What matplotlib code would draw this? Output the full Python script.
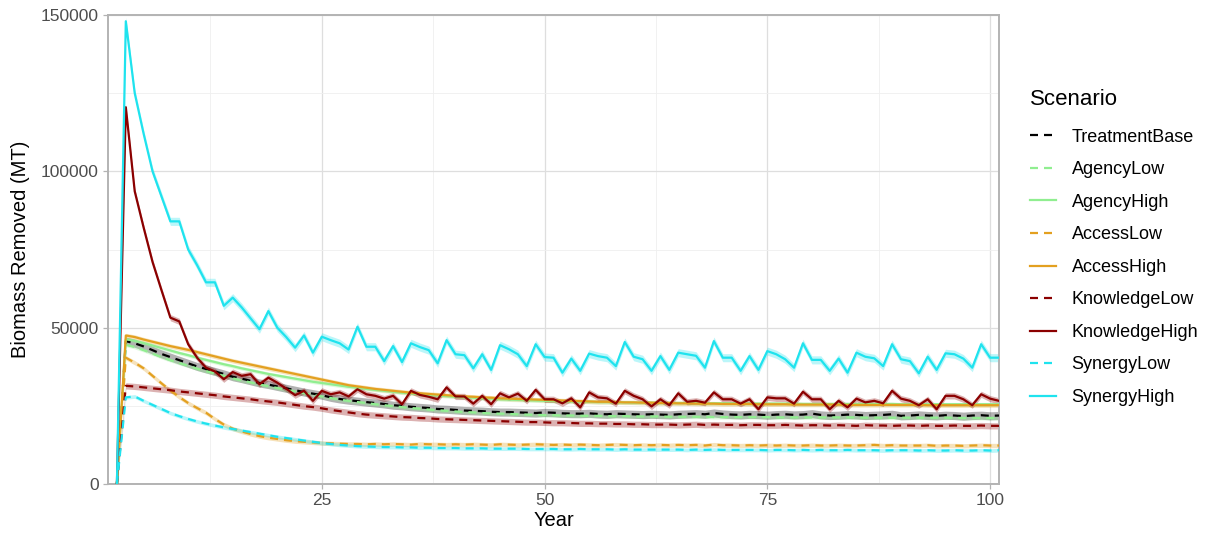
import numpy as np
import matplotlib
matplotlib.use("Agg")
import matplotlib.pyplot as plt
from matplotlib.ticker import MultipleLocator

plt.rcParams['font.family'] = ['Liberation Sans', 'DejaVu Sans']

# --- Data (years 2..101) ---
year = list(range(2, 102))

scenarios = ["TreatmentBase", "AgencyLow", "AgencyHigh", "AccessLow", "AccessHigh",
             "KnowledgeLow", "KnowledgeHigh", "SynergyLow", "SynergyHigh"]

treatment_base = [
    0, 45700, 45000, 44000, 42800, 41600, 40600, 39600, 38600, 37600,
    36800, 36000, 35200, 34300, 33700, 33000, 32300, 31800, 31200, 30600,
    30000, 29400, 28900, 28400, 27700, 27200, 26800, 26500, 26200, 25900,
    25600, 25200, 25000, 24700, 24500, 24300, 24000, 23900, 23700, 23500,
    23400, 23300, 23100, 23000, 23000, 22900, 22800, 22700, 22900, 22800,
    22600, 22500, 22500, 22600, 22400, 22300, 22500, 22400, 22300, 22200,
    22300, 22200, 22100, 22300, 22400, 22500, 22300, 22700, 22400, 22200,
    22100, 22300, 22200, 22000, 22200, 22300, 22100, 22200, 22500, 22100,
    21900, 22000, 22200, 22100, 21900, 22000, 22100, 22300, 21800, 21900,
    22100, 21900, 21800, 22000, 21900, 21700, 21900, 22000, 21800, 21900]

agency_low = [
    0, 44500, 43800, 42800, 41700, 40600, 39600, 38700, 37800, 36900,
    36100, 35300, 34600, 33800, 33100, 32500, 31800, 31300, 30700, 30100,
    29600, 29000, 28500, 28000, 27500, 27000, 26600, 26200, 25900, 25500,
    25200, 24900, 24600, 24300, 24100, 23800, 23600, 23400, 23200, 23000,
    22900, 22700, 22600, 22500, 22400, 22300, 22200, 22100, 22000, 22000,
    21900, 21900, 21800, 21800, 21800, 21700, 21700, 21700, 21600, 21600,
    21600, 21600, 21500, 21500, 21500, 21500, 21500, 21400, 21400, 21400,
    21400, 21400, 21400, 21400, 21300, 21300, 21300, 21300, 21300, 21300,
    21300, 21300, 21300, 21300, 21200, 21200, 21200, 21200, 21200, 21200,
    21200, 21200, 21200, 21200, 21200, 21100, 21100, 21100, 21100, 21100]

agency_high = [
    0, 46300, 45800, 45100, 44300, 43500, 42700, 41900, 41200, 40400,
    39700, 39000, 38300, 37700, 37000, 36400, 35800, 35200, 34700, 34200,
    33700, 33200, 32700, 32300, 31900, 31500, 31100, 30800, 30400, 30100,
    29800, 29500, 29200, 29000, 28700, 28500, 28300, 28100, 27900, 27700,
    27600, 27400, 27300, 27100, 27000, 26900, 26800, 26700, 26600, 26500,
    26500, 26400, 26300, 26300, 26200, 26200, 26100, 26100, 26000, 26000,
    26000, 25900, 25900, 25900, 25900, 25800, 25800, 25800, 25800, 25800,
    25700, 25700, 25700, 25700, 25700, 25700, 25700, 25600, 25600, 25600,
    25600, 25600, 25600, 25600, 25600, 25600, 25600, 25600, 25500, 25500,
    25500, 25500, 25500, 25500, 25500, 25500, 25500, 25500, 25500, 25500]

access_low = [
    0, 40400, 38800, 37000, 34600, 32200, 29900, 27800, 25900, 24300,
    22800, 20800, 19000, 17700, 16800, 16000, 15300, 14800, 14400, 14000,
    13700, 13500, 13300, 13100, 13000, 12900, 12800, 12800, 12700, 12800,
    12700, 12800, 12700, 12600, 12800, 12700, 12700, 12600, 12700, 12600,
    12700, 12600, 12500, 12700, 12600, 12500, 12600, 12700, 12600, 12500,
    12600, 12500, 12600, 12500, 12400, 12500, 12600, 12500, 12400, 12500,
    12400, 12500, 12400, 12500, 12400, 12500, 12300, 12600, 12400, 12400,
    12300, 12400, 12300, 12400, 12300, 12400, 12300, 12300, 12400, 12300,
    12300, 12400, 12300, 12300, 12400, 12500, 12300, 12400, 12300, 12300,
    12300, 12400, 12200, 12300, 12300, 12200, 12300, 12400, 12300, 12300]

access_high = [
    0, 47500, 47000, 46200, 45500, 44800, 44100, 43500, 42900, 42200,
    41500, 40800, 40100, 39400, 38800, 38200, 37600, 37000, 36400, 35800,
    35200, 34600, 34000, 33400, 32800, 32200, 31600, 31200, 30800, 30400,
    30100, 29800, 29500, 29200, 29000, 28800, 28600, 28400, 28200, 28000,
    27900, 27700, 27600, 27400, 27300, 27200, 27100, 27000, 26900, 26800,
    26700, 26600, 26500, 26400, 26300, 26300, 26200, 26100, 26100, 26000,
    26000, 25900, 25900, 25800, 25800, 25700, 25700, 25700, 25600, 25600,
    25600, 25600, 25500, 25500, 25500, 25500, 25400, 25400, 25400, 25400,
    25400, 25400, 25300, 25300, 25300, 25300, 25300, 25300, 25300, 25300,
    25300, 25200, 25200, 25200, 25200, 25200, 25200, 25200, 25200, 25200]

knowledge_low = [
    0, 31400, 31200, 30900, 30600, 30300, 30000, 29600, 29300, 29000,
    28700, 28400, 28000, 27700, 27400, 27100, 26700, 26400, 26100, 25700,
    25300, 24900, 24600, 24200, 23700, 23300, 22900, 22500, 22200, 22000,
    21800, 21600, 21400, 21300, 21100, 21000, 20800, 20700, 20600, 20500,
    20400, 20300, 20200, 20100, 20000, 19900, 19800, 19800, 19700, 19600,
    19600, 19500, 19400, 19400, 19300, 19300, 19200, 19200, 19100, 19100,
    19000, 19000, 19000, 18900, 19000, 19100, 18900, 19000, 18900, 18900,
    18800, 18900, 18900, 18800, 18800, 18900, 18800, 18700, 18800, 18800,
    18700, 18800, 18700, 18600, 18800, 18700, 18700, 18600, 18700, 18700,
    18600, 18700, 18600, 18600, 18700, 18600, 18600, 18700, 18600, 18600]

knowledge_high = [
    0, 120500, 93600, 82000, 71000, 62000, 53200, 52000, 44700, 40400,
    37200, 36000, 33500, 35800, 34600, 35100, 31900, 34000, 32400, 30500,
    28400, 29800, 26600, 29800, 28700, 29300, 28000, 30300, 28700, 28200,
    27300, 28200, 25500, 29800, 28500, 27900, 27100, 30900, 28000, 28000,
    25700, 28200, 25500, 29000, 27700, 28900, 26600, 30100, 27100, 27100,
    25800, 27400, 24500, 29300, 27700, 27400, 25700, 29800, 28200, 27100,
    24800, 27100, 25200, 29000, 26300, 26600, 26000, 29300, 27100, 27100,
    25700, 27100, 23900, 27700, 27400, 27400, 25700, 29500, 27100, 27100,
    23900, 26600, 24500, 27300, 26100, 26600, 25800, 29800, 27300, 26600,
    25200, 27100, 23900, 28200, 28200, 27100, 25200, 28700, 27300, 26600]

synergy_low = [
    0, 27700, 28000, 26600, 25300, 24000, 22700, 21700, 20800, 20000,
    19300, 18700, 18100, 17600, 17100, 16600, 16100, 15600, 15100, 14700,
    14300, 13900, 13500, 13100, 12800, 12500, 12300, 12100, 12000, 11900,
    11800, 11800, 11700, 11700, 11600, 11600, 11500, 11500, 11500, 11400,
    11400, 11400, 11300, 11300, 11300, 11300, 11200, 11200, 11200, 11200,
    11100, 11100, 11200, 11100, 11100, 11100, 11000, 11100, 11000, 11000,
    11000, 11000, 11000, 11000, 10900, 11000, 10900, 11000, 10900, 10900,
    10900, 10900, 10900, 10800, 10900, 10900, 10800, 10900, 10800, 10900,
    10800, 10800, 10900, 10800, 10800, 10800, 10700, 10800, 10800, 10800,
    10700, 10800, 10700, 10700, 10800, 10700, 10700, 10800, 10700, 10800]

synergy_high = [
    0, 148000, 125000, 112000, 100000, 92000, 84000, 84000, 75000, 70000,
    64500, 64500, 57000, 59600, 56500, 53000, 49500, 55300, 50000, 47000,
    43600, 47500, 42000, 47100, 46000, 45000, 43000, 50300, 43900, 43900,
    39300, 44100, 39000, 45000, 43800, 42800, 38600, 46000, 41500, 41200,
    37000, 41500, 36500, 44400, 43100, 41500, 37700, 44700, 40600, 40400,
    35600, 40100, 36200, 41700, 40900, 40400, 37700, 45400, 40700, 39900,
    36200, 40900, 36500, 42000, 41500, 41000, 37200, 45700, 40400, 40400,
    36200, 40900, 36500, 42500, 41500, 39900, 37200, 45000, 39700, 39700,
    36200, 40100, 35600, 42000, 40700, 40200, 37700, 44700, 39900, 39300,
    35400, 40700, 36500, 41800, 41500, 40100, 37200, 44700, 40400, 40400]

# half-width of the confidence ribbon for each scenario
ribbon_half = [1300, 600, 600, 700, 700, 1000, 1000, 600, 1300]

series = [treatment_base, agency_low, agency_high, access_low, access_high,
          knowledge_low, knowledge_high, synergy_low, synergy_high]

colors = ["#000000", "#90EE90", "#90EE90", "#E3A020", "#E3A020",
          "#8B0000", "#8B0000", "#1FE3EE", "#1FE3EE"]
styles = ["dashed", "dashed", "solid", "dashed", "solid",
          "dashed", "solid", "dashed", "solid"]

# --- Figure ---
fig = plt.figure(figsize=(12.14, 5.4), dpi=100)
ax = fig.add_axes([108 / 1214, 1 - 484 / 540, (999 - 108) / 1214, (484 - 15) / 540])

yr = np.array(year)
for vals, hw, col in zip(series, ribbon_half, colors):
    v = np.array(vals)
    ax.fill_between(yr, v - hw, v + hw, color=col, alpha=0.3, linewidth=0, zorder=2)

handles = []
for name, vals, col, ls in zip(scenarios, series, colors, styles):
    if ls == "dashed":
        ln, = ax.plot(yr, vals, color=col, lw=1.6, dashes=(3.6, 2.7), label=name, zorder=3)
    else:
        ln, = ax.plot(yr, vals, color=col, lw=1.6, label=name, zorder=3)
    handles.append(ln)

ax.set_xlim(1, 101)
ax.set_ylim(0, 150000)
ax.xaxis.set_major_locator(MultipleLocator(25))
ax.xaxis.set_minor_locator(MultipleLocator(12.5))
ax.yaxis.set_major_locator(MultipleLocator(50000))
ax.yaxis.set_minor_locator(MultipleLocator(25000))

ax.grid(which="major", color="#dedede", lw=0.9, zorder=0)
ax.grid(which="minor", color="#efefef", lw=0.6, zorder=0)
ax.set_axisbelow(True)

for sp in ax.spines.values():
    sp.set_color("#b3b3b3")
    sp.set_linewidth(1.4)

ax.tick_params(which="major", length=3.5, width=0.9, color="#b3b3b3",
               labelsize=12.5, labelcolor="#4d4d4d", pad=3)
ax.tick_params(which="minor", length=0)

ax.set_xlabel("Year", fontsize=14.5, labelpad=2)
ax.set_ylabel("Biomass Removed (MT)", fontsize=14.5, labelpad=8)

leg = fig.legend(handles=handles, loc="upper left",
                 bbox_to_anchor=(1030 / 1214, 1 - 89 / 540),
                 frameon=False, title="Scenario", title_fontsize=16,
                 fontsize=13, handlelength=1.45, handletextpad=0.85,
                 labelspacing=0.86, borderpad=0, borderaxespad=0,
                 alignment="left")
# a bit more room between the title and the first entry
leg._legend_box.sep = 13.5

fig.savefig("out.png", dpi=100, facecolor="white")
